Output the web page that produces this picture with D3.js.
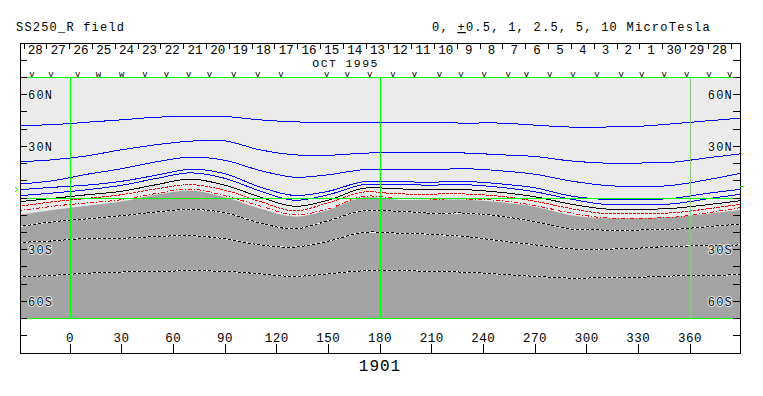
<!DOCTYPE html>
<html>
<head>
<meta charset="utf-8">
<script src="https://cdn.jsdelivr.net/npm/d3@7"></script>
<style>
  body { margin: 0; background: #fff; }
  text { font-family: "Liberation Mono", "DejaVu Sans Mono", monospace; }
</style>
</head>
<body>
<div id="chart"></div>
<script>

// ---- data ----
// longitudes at which the contours were sampled (Carrington longitude, deg)
var lonGrid = [-30, -10, 10, 30, 50, 70, 90, 110, 130, 150, 170, 190, 210, 230, 250, 270, 290, 310, 330, 350, 370, 390];

// positive contours (blue), latitude in deg
var levP10  = [42.1, 42.6, 44.0, 45.4, 46.9, 47.3, 47.3, 45.4, 44.2, 44.1, 44.0, 43.7, 43.7, 43.5, 43.5, 42.3, 41.2, 41.2, 41.6, 43.1, 44.8, 46.4];
var levP5   = [21.0, 22.2, 24.5, 28.0, 30.9, 33.0, 33.2, 28.0, 25.1, 24.8, 26.0, 26.4, 26.4, 26.1, 25.1, 24.1, 21.6, 20.3, 20.3, 20.8, 23.3, 25.7];
var levP2_5 = [8.1, 10.0, 13.8, 17.0, 21.0, 23.7, 21.9, 16.1, 12.1, 13.5, 16.4, 16.8, 16.5, 17.0, 15.8, 13.8, 10.0, 7.4, 6.5, 7.4, 10.6, 14.5];
var levP1   = [4.8, 6.2, 7.5, 9.7, 13.2, 16.7, 14.1, 6.5, 1.5, 3.9, 9.4, 9.4, 9.2, 9.6, 8.2, 5.9, 1.3, -0.8, -1.0, -0.2, 2.7, 5.1];
var levP0_5 = [1.3, 2.9, 4.8, 7.4, 11.3, 14.6, 11.4, 4.2, -1.3, 1.9, 7.7, 7.7, 7.5, 7.7, 6.2, 3.6, -0.5, -3.7, -3.9, -3.4, -0.5, 2.3];
// neutral line (black)
var lev0    = [-2.2, -0.2, 1.9, 3.9, 7.7, 11.0, 7.4, 0.7, -4.8, -1.3, 5.6, 5.3, 4.8, 4.8, 3.3, 0.7, -3.4, -6.3, -6.6, -6.0, -3.9, -1.5];
// negative contours (red dashed)
var levN0_5 = [-4.9, -2.2, -0.2, 1.9, 5.3, 7.7, 4.5, -1.9, -7.4, -2.8, 3.4, 2.4, 2.3, 2.3, 1.0, -1.9, -6.0, -9.0, -9.0, -8.6, -6.3, -3.5];
var levN1   = [-7.4, -4.8, -2.8, -1.0, 2.6, 5.2, 1.3, -4.5, -9.8, -6.3, 0.9, -0.2, -0.6, -0.6, -1.6, -4.4, -8.6, -11.5, -11.7, -11.2, -8.6, -5.5];
// upper edge of the dark (negative) region
var negEdge = [-9.8, -6.9, -4.5, -2.0, 1.9, 4.4, 0.4, -6.0, -10.7, -6.9, 0.3, -1.0, -1.0, -1.0, -2.5, -5.1, -9.8, -11.7, -11.7, -11.1, -9.2, -6.9];
// stronger negative contours (dashed, inside dark region)
var levN2_5 = [-16.7, -13.8, -12.1, -10.3, -8.2, -6.6, -8.6, -14.4, -17.9, -13.2, -7.4, -7.7, -8.8, -8.8, -10.6, -13.8, -17.9, -18.6, -18.6, -18.2, -16.7, -15.0];
var levN5   = [-25.8, -24.9, -23.4, -23.4, -22.4, -21.9, -23.7, -27.2, -28.5, -25.1, -20.0, -20.4, -21.1, -22.5, -24.9, -27.2, -29.5, -29.7, -29.1, -28.0, -27.8, -27.2];
var levN10  = [-45.9, -44.9, -43.7, -43.0, -42.6, -42.3, -42.6, -44.0, -45.5, -44.0, -42.3, -42.0, -42.7, -43.1, -44.3, -45.5, -46.5, -46.3, -46.0, -45.3, -44.9, -44.6];

// axis ticks / labels
var lonTicks = [0, 30, 60, 90, 120, 150, 180, 210, 240, 270, 300, 330, 360];
var latTicks = [-80, -70, -60, -50, -40, -30, -20, -10, 0, 10, 20, 30, 40, 50, 60, 70, 80];
var latLabelVals = [60, 30, -30, -60];
var latLabelText = ["60N", "30N", "30S", "60S"];
var gridLons = [0, 180, 360];
var gridLats = [70, 0, -70];

// day of month along the top (time runs right to left)
var dayLabels = ["28","27","26","25","24","23","22","21","20","19","18","17","16","15","14","13","12","11","10","9","8","7","6","5","4","3","2","1","30","29","28"];
var dayStartLon = -26.7;   // first day boundary
var dayLenDeg = 13.24;     // deg of rotation per day
var monthLabel = "OCT 1995";
var monthLabelLon = 160;

// observation markers (v = one, w = two)
var obsLon = [-22, -11, 4.5, 43.5, 56, 69, 81, 95, 109, 122.5, 149, 161, 174, 187.5, 200, 214.5, 227, 240.5, 254.5, 265, 278.5, 292, 306, 320, 332, 345, 358, 371, 383];
var obsDoubleLon = [16.5, 30];

// B0 angle at each end
var b0Left = 4.9;
var b0Right = 6.7;

var titleLeft = "SS250_R field";
var rotationNumber = "1901";

// ---- drawing ----
var W = 763, H = 396;

var svg = d3.select("#chart").append("svg")
    .attr("width", W).attr("height", H);

var x = d3.scaleLinear().domain([-29, 389]).range([20, 740]);
var y = d3.scaleLinear().domain([90, -90]).range([43, 353]);

// snap a coordinate to the middle of a pixel so 1px lines stay sharp
var snap = function(v) { return Math.floor(v + 0.1) + 0.5; };

var px0 = x(-29), px1 = x(389);
var py0 = y(70), py1 = y(-70);

svg.append("defs").append("clipPath").attr("id", "plotclip")
    .append("rect")
    .attr("x", px0).attr("y", py0)
    .attr("width", px1 - px0).attr("height", py1 - py0);

// light background of the map
svg.append("rect")
    .attr("x", px0).attr("y", py0)
    .attr("width", px1 - px0).attr("height", py1 - py0)
    .style("fill", "#ebebeb");

var plot = svg.append("g").attr("clip-path", "url(#plotclip)");

// dark region (negative polarity)
var negArea = d3.area()
    .x(function(d, i) { return x(lonGrid[i]); })
    .y0(py1 + 5)
    .y1(function(d) { return y(d); })
    .curve(d3.curveCatmullRom);

plot.append("path").datum(negEdge)
    .attr("d", negArea)
    .style("fill", "#a4a4a4");

// contour lines
var line = d3.line()
    .x(function(d, i) { return x(lonGrid[i]); })
    .y(function(d) { return y(d); })
    .curve(d3.curveCatmullRom);

var contours = [
  { data: levP10,  color: "#0000ff" },
  { data: levP5,   color: "#0000ff" },
  { data: levP2_5, color: "#0000ff" },
  { data: levP1,   color: "#0000ff" },
  { data: levP0_5, color: "#0000ff" },
  { data: lev0,    color: "#000000" },
  { data: levN0_5, color: "#ff0000", dash: "3,1" },
  { data: levN1,   color: "#ff0000", dash: "4,2,1,2" },
  { data: levN2_5, color: "#000000", dash: "3,2", under: "#ffffff" },
  { data: levN5,   color: "#000000", dash: "3,2", under: "#ffffff" },
  { data: levN10,  color: "#000000", dash: "3,2", under: "#ffffff" }
];

contours.forEach(function(c) {
  if (c.under) {
    plot.append("path").datum(c.data)
        .attr("d", line)
        .style("fill", "none").style("stroke", c.under).style("stroke-width", 1)
        .style("shape-rendering", "crispEdges");
  }
  plot.append("path").datum(c.data)
      .attr("d", line)
      .style("fill", "none").style("stroke", c.color).style("stroke-width", 1)
      .style("stroke-dasharray", c.dash ? c.dash : null)
      .style("shape-rendering", "crispEdges");
});

// green grid, on top of the contours
gridLats.forEach(function(v) {
  svg.append("line")
      .attr("x1", x(-25)).attr("x2", px1)
      .attr("y1", snap(y(v))).attr("y2", snap(y(v)))
      .style("stroke", "#00ff00").style("stroke-width", 1);
});
gridLons.forEach(function(v, i) {
  svg.append("line")
      .attr("x1", snap(x(v))).attr("x2", snap(x(v)))
      .attr("y1", snap(py0)).attr("y2", snap(py1))
      .style("stroke", i == 2 ? "#80d080" : "#00ff00").style("stroke-width", 1);
});

// frame
svg.append("rect")
    .attr("x", snap(px0)).attr("y", snap(y(90)))
    .attr("width", snap(px1) - snap(px0)).attr("height", snap(y(-90)) - snap(y(90)))
    .style("fill", "none").style("stroke", "black").style("stroke-width", 1);

// latitude ticks, both sides
latTicks.forEach(function(v) {
  svg.append("line").attr("x1", px0).attr("x2", px0 + 7)
      .attr("y1", snap(y(v))).attr("y2", snap(y(v)))
      .style("stroke", "black");
  svg.append("line").attr("x1", px1 - 7).attr("x2", px1)
      .attr("y1", snap(y(v))).attr("y2", snap(y(v)))
      .style("stroke", "black");
});

latLabelVals.forEach(function(v, i) {
  svg.append("text")
      .attr("x", px0 + 8).attr("y", y(v) + 4.5)
      .attr("font-size", 12).attr("letter-spacing", 1.2)
      .style("paint-order", "stroke").style("stroke", "#ffffff").style("stroke-width", 1.5)
      .attr("fill", "black")
      .text(latLabelText[i]);
  svg.append("text")
      .attr("x", px1 - 7).attr("y", y(v) + 4.5)
      .attr("text-anchor", "end")
      .attr("font-size", 12).attr("letter-spacing", 1.2)
      .style("paint-order", "stroke").style("stroke", "#ffffff").style("stroke-width", 1.5)
      .attr("fill", "black")
      .text(latLabelText[i]);
});

// longitude ticks along the bottom
lonTicks.forEach(function(v) {
  svg.append("line").attr("x1", snap(x(v))).attr("x2", snap(x(v)))
      .attr("y1", y(-90)).attr("y2", y(-90) - 9)
      .style("stroke", "black");
  svg.append("text")
      .attr("x", x(v)).attr("y", 342)
      .attr("text-anchor", "middle")
      .attr("font-size", 12.5).attr("letter-spacing", 0.5)
      .text(v);
});

svg.append("text")
    .attr("x", x(180)).attr("y", 371)
    .attr("text-anchor", "middle")
    .attr("font-size", 16).attr("letter-spacing", 1)
    .text(rotationNumber);

// day boundaries and labels along the top
for (var i = 0; i <= dayLabels.length; i++) {
  var lonB = dayStartLon + i * dayLenDeg;
  svg.append("line").attr("x1", snap(x(lonB))).attr("x2", snap(x(lonB)))
      .attr("y1", y(90)).attr("y2", y(90) + 6)
      .style("stroke", "black");
}
dayLabels.forEach(function(d, i) {
  var lonC = dayStartLon + (i + 0.5) * dayLenDeg;
  svg.append("text")
      .attr("x", x(lonC)).attr("y", 54)
      .attr("text-anchor", "middle")
      .attr("font-size", 12.5)
      .text(d);
});

svg.append("text")
    .attr("x", x(monthLabelLon)).attr("y", 67)
    .attr("text-anchor", "middle")
    .attr("font-size", 11.5).attr("letter-spacing", 1.4)
    .text(monthLabel);

// observation markers
obsLon.forEach(function(v) {
  svg.append("text").attr("x", x(v)).attr("y", 77.3)
      .attr("text-anchor", "middle").attr("font-size", 9)
      .text("v");
});
obsDoubleLon.forEach(function(v) {
  svg.append("text").attr("x", x(v)).attr("y", 77.3)
      .attr("text-anchor", "middle").attr("font-size", 9)
      .text("w");
});

// B0 markers
svg.append("path")
    .attr("d", "M" + (px0 - 5) + "," + (y(b0Left) - 2.5) + "L" + (px0 - 2) + "," + y(b0Left) + "L" + (px0 - 5) + "," + (y(b0Left) + 2.5))
    .style("fill", "none").style("stroke", "#00ff00");
svg.append("line")
    .attr("x1", px1).attr("x2", px1 + 3)
    .attr("y1", snap(y(b0Right))).attr("y2", snap(y(b0Right)))
    .style("stroke", "#00ff00");

// titles
svg.append("text")
    .attr("x", 16).attr("y", 31)
    .attr("font-size", 12).attr("letter-spacing", 1.2)
    .text(titleLeft);

var rt = svg.append("text")
    .attr("x", 711).attr("y", 31)
    .attr("text-anchor", "end")
    .attr("font-size", 12).attr("letter-spacing", 1.25)
    .style("white-space", "pre");
rt.append("tspan").text("0, ");
rt.append("tspan").style("text-decoration", "underline").text("+");
rt.append("tspan").text("0.5, 1, 2.5, 5, 10 MicroTesla");

</script>
</body>
</html>
